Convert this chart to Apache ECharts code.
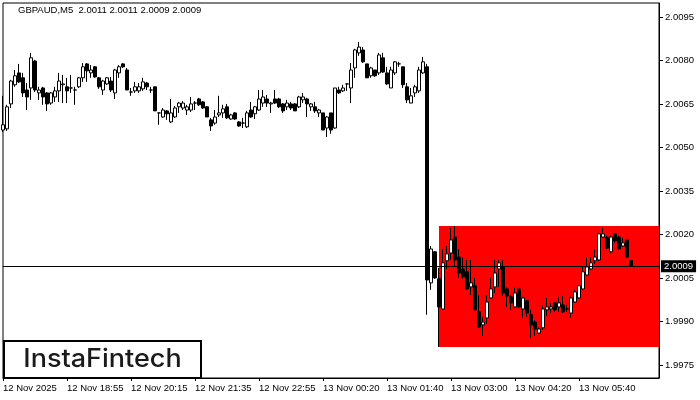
<!DOCTYPE html>
<html>
<head>
<meta charset="utf-8">
<script src="https://cdn.jsdelivr.net/npm/echarts@6/dist/echarts.min.js"></script>
<style>html,body{margin:0;padding:0;background:#fff;}#c{width:700px;height:400px;}</style>
</head>
<body>
<div id="c"></div>
<script>
// ---- Data (GBPAUD M5) ----
const openP = [2.00560,2.00564,2.00650,2.00716,2.00757,2.00740,2.00698,2.00705,2.00798,2.00688,2.00705,2.00688,2.00653,2.00674,2.00695,2.00716,2.00709,2.00705,2.00698,2.00709,
2.00740,2.00788,2.00757,2.00778,2.00740,2.00698,2.00719,2.00729,2.00688,2.00757,2.00788,2.00767,2.00691,2.00695,2.00695,2.00702,2.00722,2.00698,2.00709,2.00619,
2.00605,2.00626,2.00588,2.00605,2.00640,2.00636,2.00629,2.00629,2.00653,2.00667,2.00657,2.00640,2.00595,2.00584,2.00612,2.00619,2.00640,2.00598,2.00619,2.00588,
2.00584,2.00571,2.00629,2.00616,2.00629,2.00653,2.00667,2.00650,2.00667,2.00667,2.00650,2.00640,2.00650,2.00650,2.00640,2.00664,2.00667,2.00640,2.00640,2.00619,
2.00619,2.00567,2.00619,2.00567,2.00698,2.00695,2.00719,2.00705,2.00774,2.00826,2.00836,2.00788,2.00747,2.00767,2.00757,2.00809,2.00757,2.00705,2.00757,2.00788,
2.00778,2.00709,2.00653,2.00688,2.00695,2.00757,2.00778,2.00033,2.00140,2.00047,1.99943,2.00109,2.00136,2.00191,2.00122,2.00081,2.00071,2.00019,2.00023,1.99933,
1.99888,1.99912,1.99981,2.00019,2.00081,2.00088,2.00012,1.99985,1.99950,2.00012,1.99943,1.99971,1.99923,1.99898,1.99860,1.99878,1.99940,1.99943,1.99964,1.99950,
1.99957,1.99943,1.99929,1.99967,1.99981,2.00012,2.00060,2.00081,2.00109,2.00112,2.00191,2.00191,2.00140,2.00202,2.00191,2.00160,2.00181,2.0011];
const closeP = [2.00578,2.00640,2.00729,2.00747,2.00726,2.00688,2.00674,2.00809,2.00698,2.00698,2.00674,2.00650,2.00688,2.00695,2.00729,2.00719,2.00695,2.00705,2.00698,2.00740,
2.00778,2.00764,2.00767,2.00743,2.00709,2.00729,2.00740,2.00698,2.00767,2.00778,2.00778,2.00698,2.00691,2.00709,2.00709,2.00726,2.00709,2.00698,2.00626,2.00619,
2.00629,2.00616,2.00619,2.00636,2.00653,2.00653,2.00640,2.00650,2.00653,2.00647,2.00636,2.00605,2.00574,2.00605,2.00619,2.00633,2.00602,2.00612,2.00598,2.00574,
2.00584,2.00619,2.00605,2.00640,2.00667,2.00674,2.00653,2.00653,2.00653,2.00640,2.00626,2.00653,2.00636,2.00626,2.00674,2.00674,2.00650,2.00650,2.00626,2.00629,
2.00560,2.00605,2.00560,2.00705,2.00688,2.00705,2.00719,2.00767,2.00836,2.00846,2.00795,2.00740,2.00774,2.00747,2.00819,2.00760,2.00719,2.00767,2.00795,2.00788,
2.00716,2.00664,2.00678,2.00709,2.00767,2.00795,2.00043,2.00150,2.00050,1.99950,2.00102,2.00133,2.00181,2.00112,2.00067,2.00054,2.00012,2.00033,1.99940,1.99881,
1.99898,1.99967,2.00012,2.00067,2.00102,1.99998,1.99988,1.99964,1.99998,1.99950,1.99981,1.99929,1.99888,1.99874,1.99874,1.99943,1.99950,1.99950,1.99940,1.99964,
1.99933,1.99943,1.99981,2.00002,2.00023,2.00071,2.00088,2.00102,2.00122,2.00202,2.00202,2.00153,2.00191,2.00178,2.00150,2.00171,2.00122,2.0009];
const lowP = [2.00553,2.00557,2.00636,2.00709,2.00722,2.00674,2.00629,2.00664,2.00691,2.00664,2.00647,2.00626,2.00647,2.00657,2.00657,2.00653,2.00653,2.00688,2.00647,2.00705,
2.00726,2.00726,2.00740,2.00740,2.00702,2.00681,2.00716,2.00691,2.00667,2.00740,2.00774,2.00698,2.00678,2.00688,2.00688,2.00695,2.00698,2.00688,2.00626,2.00578,
2.00602,2.00595,2.00584,2.00602,2.00619,2.00629,2.00612,2.00622,2.00629,2.00643,2.00633,2.00605,2.00557,2.00578,2.00605,2.00602,2.00598,2.00595,2.00595,2.00571,
2.00567,2.00567,2.00602,2.00598,2.00626,2.00640,2.00640,2.00619,2.00650,2.00636,2.00619,2.00629,2.00629,2.00626,2.00636,2.00653,2.00605,2.00626,2.00619,2.00605,
2.00560,2.00536,2.00547,2.00564,2.00684,2.00691,2.00695,2.00653,2.00740,2.00816,2.00791,2.00740,2.00740,2.00743,2.00750,2.00757,2.00716,2.00705,2.00750,2.00778,
2.00705,2.00653,2.00653,2.00674,2.00688,2.00753,1.99923,2.00009,2.00047,1.99812,1.99940,2.00081,2.00112,2.00091,2.00050,2.00047,2.00009,1.99991,1.99940,1.99878,
1.99850,1.99891,1.99978,1.99998,2.00019,1.99988,1.99950,1.99940,1.99947,1.99947,1.99912,1.99916,1.99843,1.99850,1.99857,1.99871,1.99919,1.99929,1.99933,1.99933,
1.99929,1.99933,1.99912,1.99964,1.99978,2.00009,2.00057,2.00078,2.00098,2.00109,2.00188,2.00150,2.00136,2.00171,2.00147,2.00157,2.00119,2.0009];
const highP = [2.00678,2.00647,2.00733,2.00767,2.00788,2.00757,2.00722,2.00826,2.00802,2.00709,2.00709,2.00691,2.00691,2.00709,2.00757,2.00750,2.00740,2.00750,2.00709,2.00743,
2.00791,2.00791,2.00784,2.00781,2.00743,2.00733,2.00743,2.00743,2.00771,2.00784,2.00791,2.00774,2.00705,2.00726,2.00722,2.00740,2.00726,2.00709,2.00709,2.00619,
2.00636,2.00629,2.00667,2.00643,2.00657,2.00660,2.00647,2.00674,2.00660,2.00671,2.00660,2.00643,2.00602,2.00629,2.00678,2.00647,2.00650,2.00616,2.00622,2.00591,
2.00602,2.00626,2.00657,2.00643,2.00698,2.00698,2.00681,2.00657,2.00698,2.00671,2.00653,2.00664,2.00657,2.00653,2.00678,2.00688,2.00671,2.00653,2.00657,2.00633,
2.00619,2.00609,2.00619,2.00705,2.00709,2.00716,2.00719,2.00791,2.00840,2.00864,2.00846,2.00788,2.00778,2.00767,2.00826,2.00826,2.00778,2.00778,2.00798,2.00795,
2.00778,2.00722,2.00705,2.00716,2.00778,2.00812,2.00788,2.00160,2.00143,2.00085,2.00150,2.00160,2.00223,2.00229,2.00150,2.00122,2.00112,2.00112,2.00050,1.99991,
1.99916,1.99991,2.00050,2.00112,2.00112,2.00112,2.00019,1.99991,2.00016,2.00012,1.99985,1.99974,1.99940,1.99905,1.99881,1.99954,1.99981,1.99964,1.99967,1.99985,
1.99988,1.99957,1.99985,2.00009,2.00026,2.00088,2.00122,2.00122,2.00147,2.00205,2.00223,2.00195,2.00195,2.00205,2.00195,2.00188,2.00181,2.0011];

const slotCount = 165;               // chart slots incl. empty right margin
const tickLabels = ['12 Nov 2025','12 Nov 18:55','12 Nov 20:15','12 Nov 21:35','12 Nov 22:55',
                    '13 Nov 00:20','13 Nov 01:40','13 Nov 03:00','13 Nov 04:20','13 Nov 05:40'];
const tickStep = 16;
const priceTicks = [1.9975,1.9990,2.0005,2.0020,2.0035,2.0050,2.0065,2.0080,2.0095];
const currentPrice = 2.0009;
const rectStartIdx = 109, rectEndIdx = 164;
const rectTop = 2.00229, rectBottom = 1.99812;
const titleText = 'GBPAUD,M5  2.0011 2.0011 2.0009 2.0009';

const categories = Array.from({length: slotCount}, (_, i) => String(i));
const candles = openP.map((o, i) => [o, closeP[i], lowP[i], highP[i]]);

const chart = echarts.init(document.getElementById('c'), null, {renderer: 'canvas'});
const FONT = 'Liberation Sans';
chart.setOption({
  animation: false,
  backgroundColor: '#fff',
  grid: {left: 3, top: 3, right: 41, bottom: 22, show: true, borderColor: '#000', borderWidth: 1, backgroundColor: '#fff'},
  xAxis: {
    type: 'category', data: categories, boundaryGap: false,
    axisLine: {show: true, lineStyle: {color: '#000', width: 1}},
    axisTick: {show: true, length: 3, lineStyle: {color: '#000'}, interval: (i) => i % tickStep === 0},
    axisLabel: {
      interval: (i) => i % tickStep === 0,
      formatter: (v, i) => tickLabels[i / tickStep] || '',
      align: 'left', margin: 5, color: '#000', fontFamily: FONT, fontSize: 9.5, showMaxLabel: false
    },
    splitLine: {show: false}
  },
  yAxis: {
    type: 'value', position: 'right', scale: true, min: 1.99705, max: 2.00998,
    axisLine: {show: true, lineStyle: {color: '#000', width: 1}},
    axisTick: {show: true, length: 4, lineStyle: {color: '#000'}, customValues: priceTicks},
    axisLabel: {customValues: priceTicks, formatter: (v) => v.toFixed(4), margin: 6, color: '#000', fontFamily: FONT, fontSize: 9.5},
    splitLine: {show: false}
  },
  series: [{
    type: 'candlestick', data: candles, barWidth: 3, z: 2,
    itemStyle: {color: '#fff', color0: '#000', borderColor: '#000', borderColor0: '#000', borderColorDoji: '#000', borderWidth: 1},
    markArea: {
      silent: true,
      itemStyle: {color: '#ff0000', opacity: 1},
      data: [[{xAxis: categories[rectStartIdx], yAxis: rectTop}, {xAxis: categories[rectEndIdx], yAxis: rectBottom}]]
    }
  }, {
    type: 'line', data: [], z: 3, silent: true,
    markLine: {
      silent: true, symbol: ['none', 'none'], animation: false, precision: 5,
      lineStyle: {color: '#000', width: 1, type: 'solid'},
      label: {show: true, position: 'end', distance: 2, formatter: currentPrice.toFixed(4),
              color: '#fff', backgroundColor: '#000', padding: [1, 3, 1, 3], fontFamily: FONT, fontSize: 9.5},
      data: [{yAxis: currentPrice}]
    }
  }],
  graphic: [
    {type: 'text', left: 18, top: 5, style: {text: titleText, fill: '#000', font: '9.5px "Liberation Sans"'}},
    {type: 'rect', shape: {x: 4, y: 341, width: 197, height: 37}, style: {fill: '#fff', stroke: '#000', lineWidth: 2}, z: 100},
    {type: 'text', x: 102.5, y: 359, scaleX: 1.08, style: {text: 'InstaFintech', fill: '#1a1a1a', font: '500 25px Inter', textAlign: 'center', textVerticalAlign: 'middle'}, z: 101}
  ]
});
</script>
</body>
</html>
